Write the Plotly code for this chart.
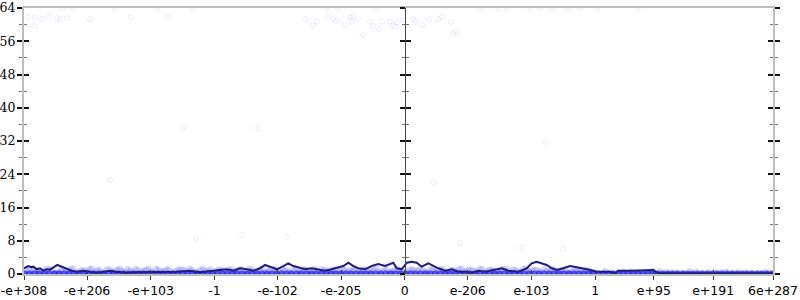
import math
import struct
import plotly.graph_objects as go

# ---------------- data ----------------
# x tick values (doubles) and their labels
tick_doubles = [-1e308, -1e206, -1e103, -1.0, -1e-102, -1e-205, 0.0,
                1e-206, 1e-103, 1.0, 1e95, 1e191, 6e287]
tick_labels = ["-e+308", "-e+206", "-e+103", "-1", "-e-102", "-e-205", "0",
               "e-206", "e-103", "1", "e+95", "e+191", "6e+287"]
y_ticks = [0, 8, 16, 24, 32, 40, 48, 56, 64]

# average error line (x on the ordinal axis, in units of ordinal(1.0); y in bits)
line_x = [-2.000, -1.978, -1.960, -1.951, -1.933, -1.916, -1.899, -1.881, -1.864, -1.846,
          -1.825, -1.811, -1.794, -1.776, -1.750, -1.723, -1.689, -1.653, -1.618, -1.583,
          -1.548, -1.513, -1.461, -1.408, -1.355, -1.303, -1.250, -1.198, -1.128, -1.076,
          -1.006, -0.935, -0.900, -0.865, -0.830, -0.795, -0.760, -0.734, -0.708, -0.672,
          -0.638, -0.612, -0.585, -0.559, -0.524, -0.489, -0.454, -0.419, -0.384, -0.349,
          -0.323, -0.296, -0.270, -0.244, -0.209, -0.173, -0.139, -0.103, -0.060, -0.042,
          -0.016, 0.011, 0.037, 0.063, 0.089, 0.124, 0.150, 0.177, 0.212, 0.247,
          0.282, 0.317, 0.352, 0.387, 0.422, 0.474, 0.510, 0.544, 0.597, 0.641,
          0.667, 0.693, 0.720, 0.746, 0.772, 0.799, 0.833, 0.868, 0.904, 0.938,
          0.974, 1.009, 1.079, 1.105, 1.122, 1.184, 1.254, 1.306, 1.332, 1.534,
          1.709, 1.937]
line_y = [1.37, 1.92, 1.61, 1.76, 1.13, 1.37, 0.79, 1.13, 1.05, 1.61,
          2.17, 1.92, 1.61, 1.37, 0.79, 0.55, 0.79, 0.55, 0.31, 0.55,
          0.79, 0.55, 0.31, 0.41, 0.41, 0.55, 0.41, 0.55, 0.79, 0.41,
          0.79, 1.13, 0.79, 1.37, 1.13, 0.79, 1.37, 2.17, 1.76, 1.13,
          1.92, 2.57, 1.92, 1.61, 1.13, 1.37, 1.13, 0.79, 1.13, 1.61,
          1.92, 2.72, 1.92, 1.37, 1.13, 1.92, 2.41, 1.92, 2.72, 1.37,
          1.13, 2.72, 2.96, 2.72, 1.76, 2.57, 1.92, 1.37, 0.79, 1.13,
          0.55, 0.55, 0.31, 0.79, 0.55, 1.13, 1.37, 0.79, 0.55, 1.37,
          2.57, 2.96, 2.57, 2.17, 1.37, 0.96, 1.37, 1.92, 1.61, 1.37,
          0.96, 0.55, 0.55, 0.17, 0.79, 0.79, 0.79, 0.96, 0.17, 0.17,
          0.17, 0.17]

# sampled points with large error
high_x = [-1.979, -1.942, -1.906, -1.869, -1.827, -1.811, -1.774, -1.653, -1.438, -1.244,
          -1.947, -1.800, -1.743, -1.522, -1.301, -1.112,
          -0.524, -0.482, -0.461, -0.403, -0.377, -0.361, -0.314, -0.287, -0.272, -0.277,
          -0.245, -0.219, -0.182, -0.167, -0.135, -0.119, -0.077, -0.061, -0.051, -0.040,
          -0.009, 0.044, 0.054, 0.091, 0.128, 0.175, 0.196, 0.243, 0.254, 0.270,
          -0.408, -0.350, -0.146, 0.396, 0.490, 0.537, 0.658, 0.711, 0.774, 0.858,
          0.921, 1.010, 1.226,
          -1.165, -1.548, -1.096, -0.854, -0.618, 0.290, 0.616, 0.832, -0.771, 0.150, 0.737]
high_y = [61.84, 61.77, 61.36, 61.91, 61.53, 61.29, 61.53, 61.29, 61.77, 61.77,
          59.67, 64, 64, 64, 64, 64,
          61.29, 59.91, 60.71, 61.91, 61.36, 60.95, 59.91, 61.77, 61.91, 60.71,
          61.29, 57.51, 60.71, 59.67, 58.95, 60.71, 60.71, 59.91, 59.50, 60.47,
          61.12, 61.29, 60.95, 59.91, 61.29, 61.29, 61.91, 60.71, 57.75, 58.30,
          64, 64, 64, 64, 64, 64, 64, 64, 64, 64,
          64, 64, 64,
          35.2, 22.6, 8.66, 9.38, 8.97, 7.46, 6.26, 6.02, 35.1, 22.1, 31.8]

# sampled points with small, non-zero error
band_x = [-1.990, -1.962, -1.931, -1.905, -1.877, -1.850, -1.821, -1.795, -1.768, -1.741,
          -1.713, -1.688, -1.659, -1.632, -1.604, -1.578, -1.550, -1.523, -1.496, -1.470,
          -1.442, -1.415, -1.387, -1.361, -1.333, -1.306, -1.279, -1.252, -1.225, -1.197,
          -1.170, -1.143, -1.116, -1.089, -1.061, -1.034, -1.007, -0.980, -0.953, -0.925,
          -0.898, -0.871, -0.844, -0.816, -0.789, -0.762, -0.735, -0.708, -0.681, -0.653,
          -0.626, -0.599, -0.572, -0.545, -0.517, -0.490, -0.463, -0.436, -0.409, -0.381,
          -0.354, -0.327, -0.300, -0.273, -0.245, -0.218, -0.191, -0.164, -0.137, -0.109,
          -0.082, -0.055, -0.028, 0.012, 0.039, 0.066, 0.093, 0.121, 0.148, 0.175,
          0.202, 0.229, 0.257, 0.284, 0.311, 0.338, 0.365, 0.393, 0.420, 0.447,
          0.474, 0.501, 0.529, 0.556, 0.583, 0.610, 0.637, 0.665, 0.692, 0.719,
          0.746, 0.773, 0.801, 0.828, 0.855, 0.882, 0.909, 0.937, 0.964, 0.991,
          1.052, 1.118, 1.187, 1.243, 1.301, 1.372, 1.428, 1.497, 1.560, 1.628,
          1.689, 1.755, 1.822, 1.891]
band_y = [1.2, 0.6, 1.0, 0.4, 1.3, 0.8, 0.5, 1.1, 0.7, 1.3,
          0.4, 0.9, 1.2, 0.6, 1.0, 0.3, 1.1, 0.8, 1.3, 0.5,
          0.9, 1.2, 0.4, 1.0, 0.7, 1.3, 0.6, 1.1, 0.4, 0.9,
          1.2, 0.7, 1.0, 0.5, 1.3, 0.8, 0.4, 1.1, 0.9, 1.2,
          0.6, 1.0, 0.3, 1.3, 0.7, 1.1, 0.5, 0.9, 1.2, 0.6,
          1.0, 0.4, 1.3, 0.8, 1.1, 0.5, 0.9, 1.2, 0.7, 1.0,
          0.4, 1.3, 0.6, 1.1, 0.8, 1.2, 0.5, 1.0, 0.7, 1.3,
          0.4, 0.9, 1.1, 0.6, 1.2, 0.8, 1.0, 0.5, 1.3, 0.7,
          1.1, 0.4, 0.9, 1.2, 0.6, 1.0, 0.8, 1.3, 0.5, 1.1,
          0.7, 0.9, 1.2, 0.4, 1.0, 0.6, 1.3, 0.8, 1.1, 0.5,
          0.9, 1.2, 0.7, 1.0, 0.4, 0.8, 1.1, 0.6, 0.9, 0.5,
          0.7, 0.4, 0.6, 0.3, 0.8, 0.5, 0.4, 0.7, 0.3, 0.5,
          0.6, 0.4, 0.3, 0.5]
band2_x = [-1.976, -1.946, -1.918, -1.891, -1.863, -1.836, -1.808, -1.781, -1.754, -1.727,
           -1.700, -1.673, -1.645, -1.618, -1.591, -1.564, -1.537, -1.509, -1.483, -1.456,
           -1.428, -1.401, -1.374, -1.347, -1.319, -1.292, -1.265, -1.238, -1.211, -1.184,
           -1.156, -1.129, -1.102, -1.075, -1.047, -1.020, -0.993, -0.966, -0.939, -0.911,
           -0.884, -0.857, -0.830, -0.803, -0.775, -0.748, -0.721, -0.694, -0.667, -0.640,
           -0.612, -0.585, -0.558, -0.531, -0.503, -0.476, -0.449, -0.422, -0.395, -0.367,
           -0.340, -0.313, -0.286, -0.259, -0.231, -0.204, -0.177, -0.150, -0.123, -0.095,
           -0.068, -0.041, -0.014, 0.025, 0.052, 0.079, 0.107, 0.134, 0.161, 0.188,
           0.215, 0.243, 0.270, 0.297, 0.324, 0.351, 0.379, 0.406, 0.433, 0.460,
           0.487, 0.515, 0.542, 0.569, 0.596, 0.623, 0.651, 0.678, 0.705, 0.732,
           0.759, 0.787, 0.814, 0.841, 0.868, 0.895, 0.923, 0.950, 0.977, 1.085,
           1.150, 1.215, 1.272, 1.340, 1.400, 1.465, 1.530, 1.595, 1.660, 1.722,
           1.790, 1.860, 1.915]
band2_y = [0.8, 1.1, 0.5, 0.9, 1.2, 0.3, 1.0, 0.7, 1.2, 0.5,
           1.0, 0.7, 1.3, 0.9, 0.5, 1.2, 0.6, 1.0, 0.8, 1.2,
           0.5, 1.1, 0.8, 1.3, 0.4, 1.0, 0.8, 1.2, 0.6, 1.1,
           0.9, 1.3, 0.6, 1.0, 0.8, 1.2, 0.7, 1.0, 0.5, 1.1,
           0.9, 1.2, 0.7, 1.0, 0.4, 1.3, 0.8, 1.1, 0.6, 1.2,
           0.8, 1.0, 0.5, 1.2, 0.7, 1.3, 0.5, 1.0, 0.8, 1.2,
           0.7, 1.0, 0.9, 1.2, 0.6, 1.1, 0.8, 1.3, 0.5, 1.0,
           0.8, 1.2, 0.7, 1.0, 0.9, 1.3, 0.6, 1.1, 0.8, 1.2,
           0.5, 1.0, 0.7, 1.3, 0.9, 1.1, 0.6, 1.2, 0.8, 1.0,
           0.5, 1.2, 0.9, 1.1, 0.6, 1.3, 0.8, 1.0, 0.7, 1.2,
           0.6, 1.0, 0.8, 1.1, 0.5, 0.9, 0.7, 1.0, 0.6, 0.4,
           0.6, 0.3, 0.5, 0.7, 0.4, 0.3, 0.6, 0.4, 0.5, 0.3,
           0.4, 0.3, 0.4]

# sampled points with zero error
zero_x = [-1.998, -1.972, -1.945, -1.921, -1.893, -1.868, -1.840, -1.816, -1.790, -1.763,
          -1.737, -1.712, -1.684, -1.660, -1.633, -1.607, -1.582, -1.555, -1.530, -1.503,
          -1.478, -1.451, -1.426, -1.399, -1.373, -1.348, -1.322, -1.295, -1.270, -1.244,
          -1.218, -1.192, -1.166, -1.140, -1.113, -1.088, -1.062, -1.036, -1.010, -0.984,
          -0.958, -0.932, -0.906, -0.881, -0.854, -0.828, -0.803, -0.776, -0.750, -0.724,
          -0.698, -0.673, -0.646, -0.620, -0.594, -0.568, -0.543, -0.516, -0.490, -0.465,
          -0.438, -0.412, -0.386, -0.361, -0.334, -0.308, -0.282, -0.256, -0.230, -0.204,
          -0.178, -0.152, -0.126, -0.100, -0.074, -0.048, -0.022, 0.004, 0.030, 0.056,
          0.082, 0.108, 0.134, 0.160, 0.186, 0.212, 0.238, 0.264, 0.290, 0.316,
          0.342, 0.368, 0.394, 0.420, 0.446, 0.472, 0.498, 0.524, 0.550, 0.576,
          0.602, 0.628, 0.654, 0.680, 0.706, 0.732, 0.758, 0.784, 0.810, 0.836,
          0.862, 0.888, 0.914, 0.940, 0.966, 0.992, 1.018, 1.044, 1.070, 1.096,
          1.122, 1.148, 1.174, 1.200, 1.226, 1.252, 1.278, 1.304, 1.330, 1.356,
          1.382, 1.408, 1.434, 1.460, 1.486, 1.512, 1.538, 1.564, 1.590, 1.616,
          1.642, 1.668, 1.694, 1.720, 1.746, 1.772, 1.798, 1.824, 1.850, 1.876,
          1.902, 1.930]
zero_y = [0.0] * len(zero_x)


# ---------------- helpers ----------------
def ordinal(v):
    """Position of a double on the ordinal axis, in units of ordinal(1.0)."""
    if v == 0:
        return 0.0
    b = struct.unpack("<q", struct.pack("<d", abs(v)))[0]
    one = struct.unpack("<q", struct.pack("<d", 1.0))[0]
    return math.copysign(b / one, v)


tick_pos = [ordinal(v) for v in tick_doubles]
x_range = [tick_pos[0], tick_pos[-1]]
center_frac = (0.0 - x_range[0]) / (x_range[1] - x_range[0])

fig = go.Figure()
fig.add_trace(go.Scatter(x=high_x, y=high_y, mode="markers",
                         marker=dict(symbol="circle-open", size=5, color="rgba(20,20,225,0.08)",
                                     line=dict(width=1)),
                         hoverinfo="skip", showlegend=False))
fig.add_trace(go.Scatter(x=band_x + band2_x, y=band_y + band2_y, mode="markers",
                         marker=dict(symbol="circle", size=6, color="rgba(60,60,235,0.2)",
                                     line=dict(width=0)),
                         hoverinfo="skip", showlegend=False))
fig.add_trace(go.Scatter(x=zero_x, y=zero_y, mode="markers",
                         marker=dict(symbol="circle", size=7, color="rgba(35,35,235,0.75)",
                                     line=dict(width=0)),
                         hoverinfo="skip", showlegend=False))
fig.add_trace(go.Scatter(x=line_x, y=line_y, mode="lines",
                         line=dict(color="rgb(30,30,125)", width=2),
                         hoverinfo="skip", showlegend=False))

GREY = "rgb(190,190,190)"
MAJ = "rgb(20,20,20)"
MIN = "rgb(120,120,120)"

common_x = dict(range=x_range, tickmode="array", tickvals=tick_pos, showgrid=False,
                zeroline=False, fixedrange=True, automargin=False)
fig.update_layout(
    width=800, height=300,
    margin=dict(l=24, r=27, t=8, b=26, autoexpand=False),
    paper_bgcolor="white", plot_bgcolor="white",
    xaxis=dict(**common_x, ticktext=tick_labels, ticks="outside", ticklen=4, tickwidth=1,
               tickcolor="rgb(60,60,60)", showline=True, linecolor=GREY, linewidth=2,
               mirror=True, tickfont=dict(family="DejaVu Sans", size=12.5, color="black")),
    xaxis2=dict(**common_x, overlaying="x", ticks="inside", ticklen=4, tickwidth=1,
                tickcolor="rgb(60,60,60)", showticklabels=False, showline=False),
)

common_y = dict(range=[0, 64], tickmode="array", tickvals=y_ticks, showgrid=False,
                zeroline=False, fixedrange=True, automargin=False, ticklen=5, tickwidth=1.5,
                tickcolor=MAJ)
minor_out = dict(dtick=4, ticklen=3, tickwidth=1, tickcolor=MIN, ticks="outside")
minor_in = dict(dtick=4, ticklen=3, tickwidth=1, tickcolor=MIN, ticks="inside")
fig.update_layout(
    yaxis=dict(**common_y, minor=minor_out, ticks="outside", showline=True, linecolor=GREY,
               linewidth=2, mirror="ticks", showticklabels=False),
    yaxis2=dict(**common_y, minor=minor_in, overlaying="y", ticks="inside", mirror="ticks",
                showline=False, showticklabels=False),
    yaxis3=dict(**common_y, minor=minor_out, overlaying="y", anchor="free",
                position=center_frac, ticks="outside", showline=True,
                linecolor="rgb(70,70,70)", linewidth=1, showticklabels=False),
    yaxis4=dict(**common_y, minor=minor_in, overlaying="y", anchor="free",
                position=center_frac, ticks="inside", showline=False, showticklabels=False),
    # label-only axis
    yaxis5=dict(range=[0, 64], tickmode="array", tickvals=y_ticks, showgrid=False,
                zeroline=False, fixedrange=True, automargin=False, overlaying="y",
                ticks="outside", ticklen=5, tickcolor="rgba(0,0,0,0)", showline=False,
                tickfont=dict(family="DejaVu Serif", size=12.5, color="black")),
)

# empty traces that activate the extra axes
for xa, ya in [("x2", "y2"), ("x", "y3"), ("x", "y4"), ("x", "y5")]:
    fig.add_trace(go.Scatter(x=[None], y=[None], xaxis=xa, yaxis=ya, showlegend=False,
                             hoverinfo="skip"))

fig.write_html("out.html")
